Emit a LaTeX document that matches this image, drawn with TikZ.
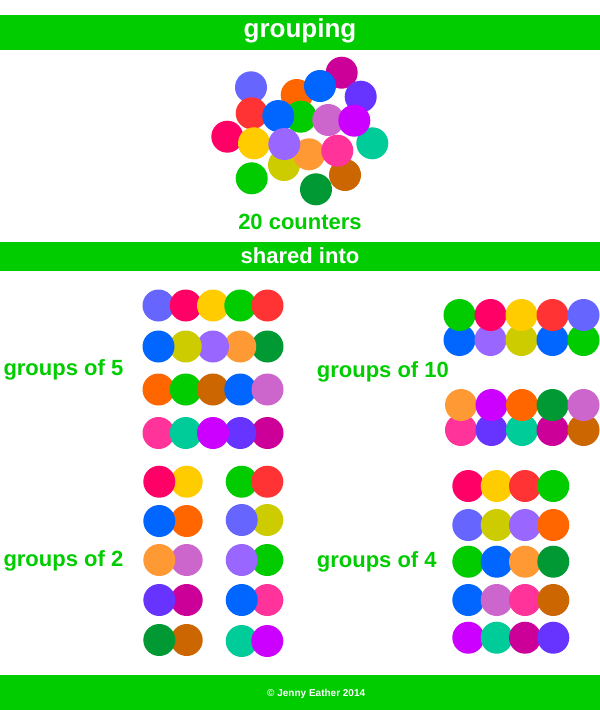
\documentclass[tikz,border=0pt]{standalone}
\usepackage{fontspec}
\setmainfont{Liberation Sans}
\definecolor{gbar}{HTML}{00CC00}
\definecolor{slate}{HTML}{6666FF}
\definecolor{crim}{HTML}{FF0066}
\definecolor{yel}{HTML}{FFCC00}
\definecolor{grn}{HTML}{00CC00}
\definecolor{rd}{HTML}{FF3333}
\definecolor{blu}{HTML}{0066FF}
\definecolor{oli}{HTML}{CCCC00}
\definecolor{lav}{HTML}{9966FF}
\definecolor{lor}{HTML}{FF9933}
\definecolor{dgr}{HTML}{009933}
\definecolor{org}{HTML}{FF6600}
\definecolor{bro}{HTML}{CC6600}
\definecolor{orc}{HTML}{CC66CC}
\definecolor{pnk}{HTML}{FF3399}
\definecolor{tea}{HTML}{00CC99}
\definecolor{pur}{HTML}{CC00FF}
\definecolor{vio}{HTML}{6633FF}
\definecolor{mag}{HTML}{CC0099}
\newcommand\cntr[3]{\fill[#3] (#1,#2) circle[radius=16pt];}
\tikzset{
  barfill/.style={fill=gbar},
  bartext/.style={text=white,font=\bfseries\fontsize{22}{24}\selectfont,anchor=base,inner sep=0pt},
  lbl/.style={text=gbar,font=\bfseries\fontsize{22}{24}\selectfont,anchor=base west,inner sep=0pt},
}
\begin{document}
\begin{tikzpicture}[x=1pt,y=-1pt]
\useasboundingbox (0,0) rectangle (600,710);
\fill[white] (0,0) rectangle (600,710);
% header
\fill[barfill] (0,15) rectangle (600,50);
\node[bartext,font=\bfseries\fontsize{26}{28}\selectfont] (title) at (300,37.5) {grouping};
% cluster
\cntr{251}{87.3}{slate}
\cntr{296.7}{95}{org}
\cntr{341.7}{72.7}{mag}
\cntr{251.7}{113.3}{rd}
\cntr{300.7}{116.7}{grn}
\cntr{328.3}{120}{orc}
\cntr{320}{86}{blu}
\cntr{360.7}{96.7}{vio}
\cntr{372.3}{143.3}{tea}
\cntr{354.3}{120.7}{pur}
\cntr{227.3}{136.7}{crim}
\cntr{254}{143.3}{yel}
\cntr{284}{165}{oli}
\cntr{309}{154.3}{lor}
\cntr{278.3}{116}{blu}
\cntr{284.3}{144}{lav}
\cntr{345}{175}{bro}
\cntr{337.3}{150.7}{pnk}
\cntr{316}{189.3}{dgr}
\cntr{251.7}{178.3}{grn}
\node[text=gbar,font=\bfseries\fontsize{22}{24}\selectfont,anchor=base,inner sep=0pt] (count) at (300,229.3) {20 counters};
% shared into
\fill[barfill] (0,241.5) rectangle (600,270.5);
\node[bartext] (shared) at (300,263.3) {shared into};
% groups of 5
\node[lbl] (g5) at (3.3,375) {groups of 5};
\cntr{158.5}{305.5}{slate}\cntr{185.75}{305.5}{crim}\cntr{213}{305.5}{yel}\cntr{240.25}{305.5}{grn}\cntr{267.5}{305.5}{rd}
\cntr{267.5}{346.5}{dgr}\cntr{240.25}{346.5}{lor}\cntr{213}{346.5}{lav}\cntr{185.75}{346.5}{oli}\cntr{158.5}{346.5}{blu}
\cntr{158.5}{389.5}{org}\cntr{185.75}{389.5}{grn}\cntr{213}{389.5}{bro}\cntr{240.25}{389.5}{blu}\cntr{267.5}{389.5}{orc}
\cntr{158.5}{433}{pnk}\cntr{185.75}{433}{tea}\cntr{267.5}{433}{mag}\cntr{240.25}{433}{vio}\cntr{213}{433}{pur}
% groups of 10
\node[lbl] (g10) at (316.7,377.3) {groups of 10};
\cntr{459.5}{340}{blu}\cntr{490.5}{340}{lav}\cntr{521.5}{340}{oli}\cntr{552.5}{340}{blu}\cntr{583.5}{340}{grn}
\cntr{459.5}{315}{grn}\cntr{490.5}{315}{crim}\cntr{521.5}{315}{yel}\cntr{552.5}{315}{rd}\cntr{583.5}{315}{slate}
\cntr{461}{430}{pnk}\cntr{491.5}{430}{vio}\cntr{522}{430}{tea}\cntr{552.5}{430}{mag}\cntr{583.5}{430}{bro}
\cntr{461}{405}{lor}\cntr{491.5}{405}{pur}\cntr{522}{405}{org}\cntr{552.5}{405}{dgr}\cntr{583.5}{405}{orc}
% groups of 2
\node[lbl] (g2) at (3.3,566.7) {groups of 2};
\cntr{186.7}{481.7}{yel}\cntr{159.3}{481.7}{crim}
\cntr{186.7}{521}{org}\cntr{159.3}{521}{blu}
\cntr{186.7}{560}{orc}\cntr{159.3}{560}{lor}
\cntr{186.7}{600}{mag}\cntr{159.3}{600}{vio}
\cntr{186.7}{640}{bro}\cntr{159.3}{640}{dgr}
\cntr{241.7}{481.7}{grn}\cntr{267.3}{481.7}{rd}
\cntr{267.3}{520}{oli}\cntr{241.7}{520}{slate}
\cntr{267.3}{560}{grn}\cntr{241.7}{560}{lav}
\cntr{267.3}{600}{pnk}\cntr{241.7}{600}{blu}
\cntr{241.7}{641}{tea}\cntr{267.3}{641}{pur}
% groups of 4
\node[lbl] (g4) at (316.7,567.3) {groups of 4};
\cntr{468.3}{486}{crim}\cntr{496.7}{486}{yel}\cntr{525}{486}{rd}\cntr{553.3}{486}{grn}
\cntr{468.3}{525}{slate}\cntr{496.7}{525}{oli}\cntr{525}{525}{lav}\cntr{553.3}{525}{org}
\cntr{468.3}{561.7}{grn}\cntr{496.7}{561.7}{blu}\cntr{525}{561.7}{lor}\cntr{553.3}{561.7}{dgr}
\cntr{468.3}{600}{blu}\cntr{496.7}{600}{orc}\cntr{525}{600}{pnk}\cntr{553.3}{600}{bro}
\cntr{468.3}{637.7}{pur}\cntr{496.7}{637.7}{tea}\cntr{525}{637.7}{mag}\cntr{553.3}{637.7}{vio}
% footer
\fill[barfill] (0,675) rectangle (600,710);
\node[text=white,font=\bfseries\fontsize{10}{12}\selectfont,anchor=base west,inner sep=0pt] (copy) at (267,696) {© Jenny Eather 2014};
\end{tikzpicture}
\end{document}
